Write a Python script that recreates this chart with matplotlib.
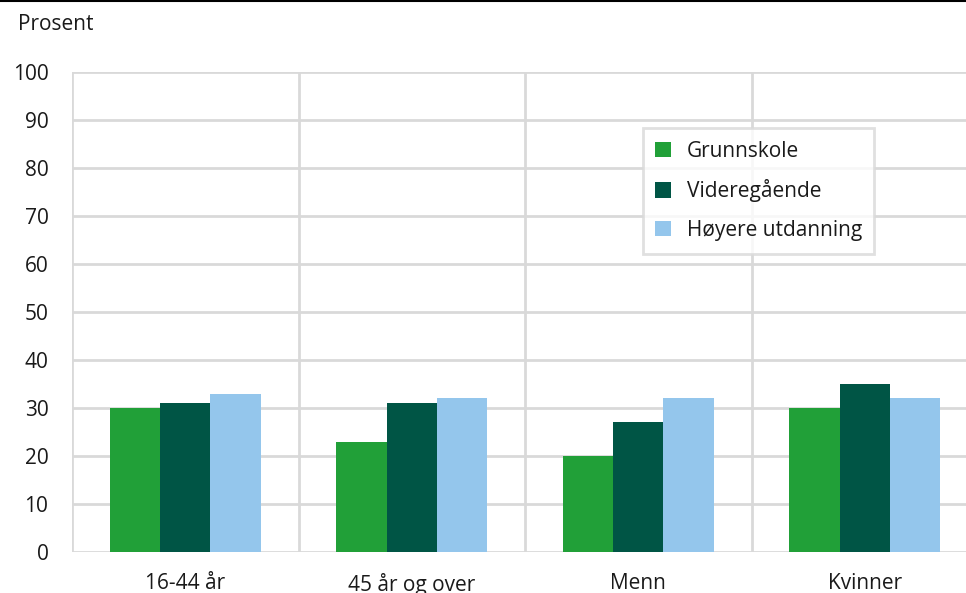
import numpy as np
from matplotlib import pyplot as plt
from matplotlib.lines import Line2D

categories = ['16-44 år', '45 år og over', 'Menn', 'Kvinner']
grunnskole = [30, 23, 20, 30]
videregaende = [31, 31, 27, 35]
hoyere = [33, 32, 32, 32]

series_names = ['Grunnskole', 'Videregående', 'Høyere utdanning']
colors = ['#21a038', '#005545', '#94c6ec']
grid_col = '#d9d9d9'
fs = 15

plt.rcParams['font.family'] = ['Open Sans', 'DejaVu Sans']

fig = plt.figure(figsize=(9.66, 5.93), dpi=100)
W, H = 966, 593
# axes spans x 72..978 px, y 72..552 px (right edge runs past the picture)
ax = fig.add_axes([72 / W, (H - 552) / H, 906 / W, 480 / H])

x = np.arange(len(categories))
w = 0.222
for i, (vals, name) in enumerate(zip([grunnskole, videregaende, hoyere], series_names)):
    ax.bar(x + (i - 1) * w, vals, width=w, color=colors[i], label=name, zorder=3)

ax.set_xlim(-0.5, len(categories) - 0.5)
ax.set_ylim(0, 100)
ax.set_yticks(range(0, 101, 10))
ax.set_xticks(x)
ax.set_xticklabels(categories)
ax.set_xticks(np.arange(-0.5, len(categories), 1), minor=True)

ax.grid(axis='y', which='major', color=grid_col, linewidth=2, zorder=0)
ax.grid(axis='x', which='minor', color=grid_col, linewidth=2, zorder=0)
ax.tick_params(axis='both', which='both', length=0, labelsize=fs, colors='#1a1a1a')
ax.tick_params(axis='y', pad=17)
ax.tick_params(axis='x', pad=15)

for s in ['top', 'right', 'left', 'bottom']:
    ax.spines[s].set_visible(False)

leg = ax.legend(loc='upper left', bbox_to_anchor=(0.630, 0.883), borderaxespad=0,
                fontsize=fs, frameon=True, fancybox=False, handlelength=0.75,
                handleheight=0.75, handletextpad=0.75, labelspacing=0.85,
                borderpad=0.6)
leg.get_frame().set_edgecolor(grid_col)
leg.get_frame().set_linewidth(2)
for t in leg.get_texts():
    t.set_color('#1a1a1a')

fig.text(18 / W, 1 - 24 / H, 'Prosent', fontsize=fs, va='center', ha='left', color='#1a1a1a')
fig.add_artist(Line2D([0, 1], [1 - 1 / H, 1 - 1 / H], color='black', linewidth=1.5,
                      transform=fig.transFigure))

fig.savefig('out.png', dpi=100)
